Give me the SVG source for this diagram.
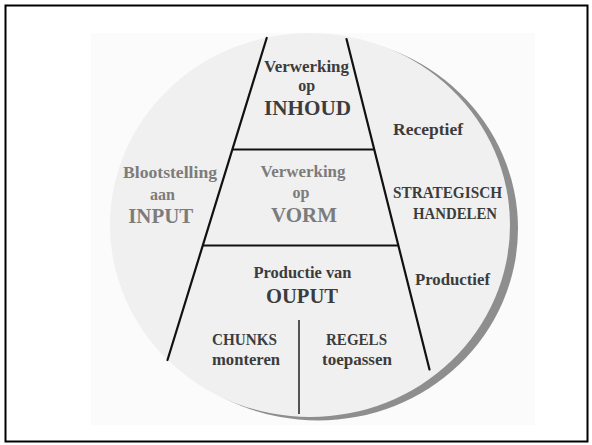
<svg xmlns="http://www.w3.org/2000/svg" width="592" height="445" viewBox="0 0 592 445">
  <style>
    text { font-family: "Liberation Serif", "DejaVu Serif", "Times New Roman", serif; font-weight: 700; text-anchor: middle; }
    .dk { fill: #3c3c3c; }
    .lt { fill: #7c7c7c; }
    .s { font-size: 16px; }
    .b { font-size: 20px; }
    .edge { stroke: #111; stroke-width: 2.2; fill: none; stroke-linecap: round; }
    .div { stroke: #111; stroke-width: 2.2; fill: none; }
  </style>
  <rect x="0" y="0" width="592" height="445" fill="#ffffff"/>
  <rect x="5.5" y="5.5" width="582" height="436" fill="none" stroke="#000" stroke-width="2"/>
  <rect x="91" y="33" width="444" height="392" fill="#fbfbfb"/>

  <g id="disc">
    <ellipse cx="318" cy="228.5" rx="200" ry="192" fill="#8e8e8e"/>
    <ellipse cx="310" cy="225" rx="200" ry="192" fill="#f0f0f0"/>
  </g>

  <g id="connectors">
    <line class="edge" x1="266.7" y1="38" x2="167.5" y2="360"/>
    <line class="edge" x1="346.5" y1="39" x2="429.5" y2="369.5"/>
    <line class="div" x1="232" y1="149.5" x2="374.5" y2="149.5"/>
    <line class="div" x1="202" y1="245.5" x2="398.5" y2="245.5"/>
    <line stroke="#111" stroke-width="1.4" x1="299" y1="320" x2="299" y2="414"/>
  </g>

  <g id="inhoud">
    <text class="dk s" x="306.5" y="72" textLength="85" lengthAdjust="spacingAndGlyphs">Verwerking</text>
    <text class="dk s" x="306.7" y="91">op</text>
    <text class="dk b" x="307.5" y="115" textLength="87" lengthAdjust="spacingAndGlyphs">INHOUD</text>
  </g>

  <g id="vorm">
    <text class="lt s" x="303" y="177" textLength="85" lengthAdjust="spacingAndGlyphs">Verwerking</text>
    <text class="lt s" x="301" y="198">op</text>
    <text class="lt b" x="304" y="222" textLength="66" lengthAdjust="spacingAndGlyphs">VORM</text>
  </g>

  <g id="input">
    <text class="lt s" x="170" y="178" textLength="94" lengthAdjust="spacingAndGlyphs">Blootstelling</text>
    <text class="lt s" x="162.5" y="200">aan</text>
    <text class="lt b" x="160.7" y="223" textLength="65" lengthAdjust="spacingAndGlyphs">INPUT</text>
  </g>

  <g id="output">
    <text class="dk s" x="302.5" y="278" textLength="98" lengthAdjust="spacingAndGlyphs">Productie van</text>
    <text class="dk b" x="302" y="303" textLength="72" lengthAdjust="spacingAndGlyphs">OUPUT</text>
  </g>

  <g id="chunks">
    <text class="dk s" x="244.5" y="345" textLength="65" lengthAdjust="spacingAndGlyphs">CHUNKS</text>
    <text class="dk s" x="246" y="365" textLength="68" lengthAdjust="spacingAndGlyphs">monteren</text>
  </g>

  <g id="regels">
    <text class="dk s" x="356.5" y="345" textLength="61" lengthAdjust="spacingAndGlyphs">REGELS</text>
    <text class="dk s" x="357" y="365" textLength="70" lengthAdjust="spacingAndGlyphs">toepassen</text>
  </g>

  <g id="receptief">
    <text class="dk s" x="428" y="135" textLength="70" lengthAdjust="spacingAndGlyphs">Receptief</text>
  </g>

  <g id="strategisch">
    <text class="dk s" x="447.5" y="198" textLength="109" lengthAdjust="spacingAndGlyphs">STRATEGISCH</text>
    <text class="dk s" x="455" y="219" textLength="84" lengthAdjust="spacingAndGlyphs">HANDELEN</text>
  </g>

  <g id="productief">
    <text class="dk s" x="452.5" y="285" textLength="75" lengthAdjust="spacingAndGlyphs">Productief</text>
  </g>
</svg>
